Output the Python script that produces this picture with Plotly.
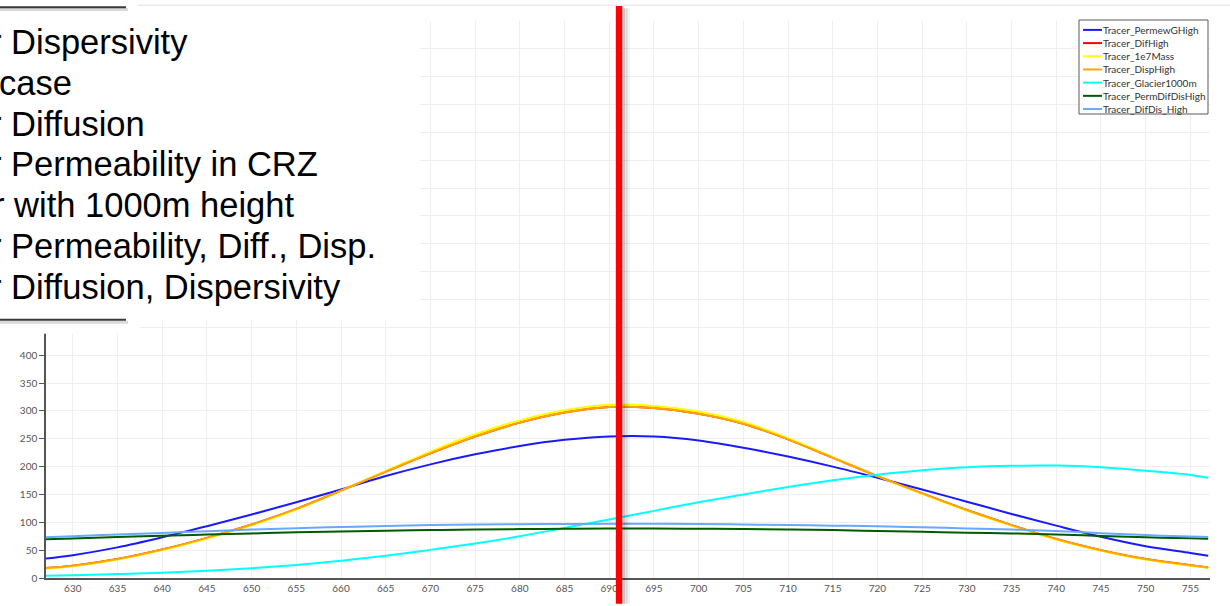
import plotly.graph_objects as go

# ---------------- data ----------------
x_pos = [627, 630, 635, 640, 645, 650, 655, 660, 665, 670, 675, 680, 685, 690,
         695, 700, 705, 710, 715, 720, 725, 730, 735, 740, 745, 750, 755, 757]

perm_wg_high = [35, 41, 55, 73, 93, 114, 136, 159, 183, 204, 222, 237, 248, 254,
                254, 247, 234, 218, 200, 180, 159, 137, 115, 94, 74, 57, 45, 40]
dif_high = [18, 22, 34, 51, 72, 96, 124, 157, 191, 224, 254, 279, 297, 307,
            305, 295, 277, 249, 216, 183, 152, 122, 95, 70, 50, 34, 23, 19]
mass_1e7 = [17, 21, 33, 50, 71, 95, 123, 157, 192, 227, 258, 283, 301, 311,
            309, 299, 280, 251, 217, 183, 151, 121, 94, 69, 49, 33, 22, 18]
disp_high = [18, 22, 34, 51, 72, 96, 124, 157, 191, 224, 254, 279, 297, 307,
             305, 295, 277, 249, 216, 183, 152, 122, 95, 70, 50, 34, 23, 19]
glacier_1000m = [4, 5, 7, 9.5, 13, 17.5, 23.5, 31, 40, 50.5, 62, 75, 90, 105,
                 120.5, 136, 150, 163.5, 175.5, 185.5, 193.5, 199, 201.5, 202, 199, 192.5, 185, 180]
perm_dif_dis_high = [69.5, 71, 73.5, 76, 78, 80, 82, 83.7, 85, 86, 87, 87.8, 88.5, 89,
                     89, 88.4, 87.8, 87, 86, 84.5, 83, 81.3, 80, 78.3, 75.5, 73, 71.5, 70.6]
dif_dis_high = [73, 75, 78, 81, 84, 87, 89.5, 91.5, 93.5, 95, 96, 96.5, 97, 97.3,
                97.3, 97, 96, 95, 94, 93, 91, 89, 87, 84.5, 80.5, 77, 74.5, 73.5]

series_names = ["Tracer_PermewGHigh", "Tracer_DifHigh", "Tracer_1e7Mass", "Tracer_DispHigh",
                "Tracer_Glacier1000m", "Tracer_PermDifDisHigh", "Tracer_DifDis_High"]
series_values = [perm_wg_high, dif_high, mass_1e7, disp_high,
                 glacier_1000m, perm_dif_dis_high, dif_dis_high]
series_colors = ["#1a1aff", "#ff0000", "#ffff00", "#ffa500",
                 "#00ffff", "#005a00", "#6aa8ff"]

x_ticks = list(range(630, 756, 5))
y_ticks = list(range(0, 1001, 50))
y_tick_labels = [str(v) if v <= 400 else "" for v in y_ticks]

marker_x = 691.1

text_lines = ["r Dispersivity", "case", "r Diffusion", "r Permeability in CRZ",
              "r with 1000m height", "r Permeability, Diff., Disp.", "r Diffusion, Dispersivity"]

# ---------------- layout helpers ----------------
W, H = 1230, 606
ML, MR, MT, MB = 46, 20, 21, 22
XMIN, XMAX = 627.0, 757.2
PW, PH = W - ML - MR, H - MT - MB


def pxx(px):
    return (px - ML) / PW


def pxy(py):
    return (H - MB - py) / PH


fig = go.Figure()
for name, vals, col in zip(series_names, series_values, series_colors):
    fig.add_trace(go.Scatter(x=x_pos, y=vals, mode="lines", name=name,
                             line=dict(color=col, width=2, shape="spline", smoothing=1.0),
                             showlegend=False, hoverinfo="skip"))

shapes = []
annotations = []

# vertical marker line with shadow
mx = (marker_x - XMIN) / (XMAX - XMIN)
for off, w, c in [(9, 4, "rgba(0,0,0,0.05)"), (6.5, 4, "rgba(0,0,0,0.10)"), (4.5, 3, "rgba(0,0,0,0.14)")]:
    shapes.append(dict(type="line", xref="paper", yref="paper",
                       x0=mx + off / PW, x1=mx + off / PW, y0=pxy(8), y1=pxy(610),
                       line=dict(color=c, width=w), layer="above"))
shapes.append(dict(type="line", xref="paper", yref="paper", x0=mx, x1=mx,
                   y0=pxy(5), y1=pxy(610), line=dict(color="#ff0000", width=6.5), layer="above"))

# white text box covering top-left
shapes.append(dict(type="rect", xref="paper", yref="paper",
                   x0=pxx(-5), x1=pxx(420), y0=pxy(-5), y1=pxy(323),
                   fillcolor="white", line=dict(width=0), layer="above"))
shapes.append(dict(type="rect", xref="paper", yref="paper",
                   x0=pxx(-5), x1=pxx(140), y0=pxy(-5), y1=pxy(337),
                   fillcolor="white", line=dict(width=0), layer="above"))
# top frame line
shapes.append(dict(type="line", xref="paper", yref="paper",
                   x0=pxx(138), x1=pxx(1230), y0=pxy(5), y1=pxy(5),
                   line=dict(color="#ececec", width=1.5), layer="above"))
# box borders with soft shadow
for yy in (7, 323):
    shapes.append(dict(type="line", xref="paper", yref="paper",
                       x0=pxx(0), x1=pxx(128), y0=pxy(yy + 2.5), y1=pxy(yy + 2.5),
                       line=dict(color="rgba(0,0,0,0.15)", width=3), layer="above"))
    shapes.append(dict(type="line", xref="paper", yref="paper",
                       x0=pxx(0), x1=pxx(126), y0=pxy(yy), y1=pxy(yy),
                       line=dict(color="#3a3a3a", width=2), layer="above"))

# text lines
baseline0, step = 54, 41.3
fs = 34.5
x_starts = [-10.5, -1.5, -10.5, -10.5, -7, -10.5, -10.5]
for i, (t, xs) in enumerate(zip(text_lines, x_starts)):
    yc = baseline0 + i * step - 0.3465 * fs
    annotations.append(dict(xref="paper", yref="paper", x=pxx(xs), y=pxy(yc),
                            xanchor="left", yanchor="middle", text=t, showarrow=False,
                            font=dict(family="Liberation Sans, Arial", size=fs, color="#000000"),
                            borderpad=0, borderwidth=0))

# manual legend
lx0, lx1, ly0, ly1 = 1079, 1208, 20, 115
shapes.append(dict(type="rect", xref="paper", yref="paper",
                   x0=pxx(lx0), x1=pxx(lx1), y0=pxy(ly0), y1=pxy(ly1),
                   fillcolor="white", line=dict(color="#5a5a5a", width=1), layer="above"))
for i, (name, col) in enumerate(zip(series_names, series_colors)):
    yy = 30 + i * 13.33
    shapes.append(dict(type="line", xref="paper", yref="paper",
                       x0=pxx(1083), x1=pxx(1102), y0=pxy(yy), y1=pxy(yy),
                       line=dict(color=col, width=2), layer="above"))
    annotations.append(dict(xref="paper", yref="paper", x=pxx(1103), y=pxy(yy),
                            xanchor="left", yanchor="middle", text=name, showarrow=False,
                            font=dict(family="Lato", size=10, color="#333333"),
                            borderpad=0, borderwidth=0))

fig.update_layout(
    width=W, height=H,
    margin=dict(l=ML, r=MR, t=MT, b=MB, pad=0),
    paper_bgcolor="white", plot_bgcolor="white",
    shapes=shapes, annotations=annotations,
    showlegend=False,
    xaxis=dict(range=[XMIN, XMAX], tickvals=x_ticks, ticktext=[str(v) for v in x_ticks],
               showgrid=True, gridcolor="#efefef", gridwidth=1,
               showline=True, linecolor="#555555", linewidth=1.5,
               ticks="", zeroline=False,
               tickfont=dict(family="Lato", size=10, color="#555555")),
    yaxis=dict(range=[0, 1000], tickvals=y_ticks, ticktext=y_tick_labels,
               showgrid=True, gridcolor="#efefef", gridwidth=1,
               showline=True, linecolor="#555555", linewidth=1.5,
               ticks="outside", ticklen=5, tickcolor="#555555", zeroline=False,
               tickfont=dict(family="Lato", size=10, color="#555555")),
)

fig.write_html("out.html")
